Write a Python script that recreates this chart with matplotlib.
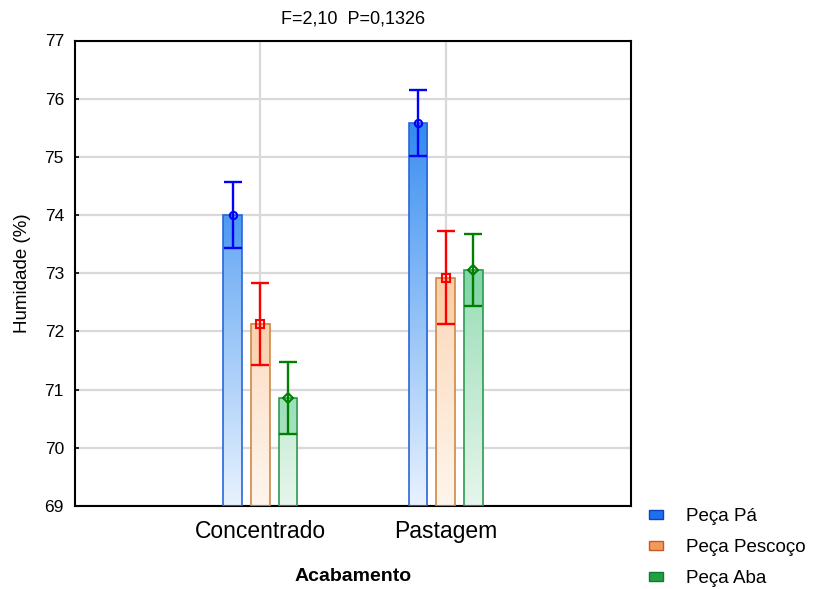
import matplotlib
matplotlib.use("Agg")
import matplotlib.pyplot as plt
import numpy as np
from matplotlib.colors import LinearSegmentedColormap
from matplotlib.patches import Patch

plt.rcParams['font.family'] = ['Liberation Sans', 'DejaVu Sans']

categories = ["Concentrado", "Pastagem"]
series = ["Peça Pá", "Peça Pescoço", "Peça Aba"]
means = {
    "Peça Pá": [74.00, 75.58],
    "Peça Pescoço": [72.13, 72.92],
    "Peça Aba": [70.85, 73.05],
}
errors = {
    "Peça Pá": [0.57, 0.57],
    "Peça Pescoço": [0.70, 0.80],
    "Peça Aba": [0.62, 0.62],
}
title_text = "F=2,10  P=0,1326"
y_ticks = [69, 70, 71, 72, 73, 74, 75, 76, 77]

grad = {
    "Peça Pá": ["#e8f2fe", "#2a86ef"],
    "Peça Pescoço": ["#fff5ec", "#f7bf8c"],
    "Peça Aba": ["#e6f6ec", "#5cc98c"],
}
edge = {"Peça Pá": "#2a66d8", "Peça Pescoço": "#d08844", "Peça Aba": "#2e9a52"}
errc = {"Peça Pá": "#0000ff", "Peça Pescoço": "#ff0000", "Peça Aba": "#008000"}
mark = {"Peça Pá": "o", "Peça Pescoço": "s", "Peça Aba": "D"}
leg_face = {"Peça Pá": "#1f6ff2", "Peça Pescoço": "#f39a5a", "Peça Aba": "#22a046"}
leg_edge = {"Peça Pá": "#1040c0", "Peça Pescoço": "#c85a20", "Peça Aba": "#107a30"}

W, H = 813, 589
fig = plt.figure(figsize=(W / 100, H / 100), dpi=100)
ax = fig.add_axes([75 / W, (H - 506) / H, 556 / W, 465.5 / H])

ymin, ymax = 69, 77
ax.set_xlim(-1, 2)
ax.set_ylim(ymin, ymax)

width = 0.1
offsets = [-0.15, 0.0, 0.15]
x = np.arange(len(categories))

for s, off in zip(series, offsets):
    cmap = LinearSegmentedColormap.from_list(s, grad[s])
    for i, xc in enumerate(x):
        m = means[s][i]
        e = errors[s][i]
        x0, x1 = xc + off - width / 2, xc + off + width / 2
        vals = np.linspace(ymin, m, 200).reshape(-1, 1)
        ax.imshow(vals, cmap=cmap, vmin=ymin, vmax=76.2, origin='lower',
                  extent=[x0, x1, ymin, m], aspect='auto', zorder=2,
                  interpolation='bilinear')
        ax.fill_between([x0, x1], m - e, m, color=grad[s][1], alpha=0.35,
                        linewidth=0, zorder=2.1)
    ax.bar(x + off, [m - ymin for m in means[s]], width=width, bottom=ymin,
           fill=False, edgecolor=edge[s], linewidth=1.2, zorder=3)
    ax.errorbar(x + off, means[s], yerr=errors[s], fmt='none', ecolor=errc[s],
                elinewidth=1.7, capsize=6.5, capthick=1.7, zorder=4)
    ax.plot(x + off, means[s], linestyle='none', marker=mark[s],
            markersize=5.2, markerfacecolor='none',
            markeredgecolor=errc[s], markeredgewidth=1.5, zorder=5)

ax.set_yticks(y_ticks)
ax.set_xticks(x)
ax.set_xticklabels(categories, fontsize=16.5)
ax.tick_params(axis='y', labelsize=12.5, direction='in', length=3, width=1.2, pad=8)
ax.tick_params(axis='x', direction='in', length=3, width=1.2, pad=10)
ax.grid(True, color='#d9d9d9', linewidth=1.6, zorder=0)
ax.set_axisbelow(True)
for sp in ax.spines.values():
    sp.set_linewidth(1.5)
    sp.set_color('black')

ax.set_title(title_text, fontsize=13, pad=12)
ax.set_ylabel("Humidade (%)", fontsize=13.5, labelpad=10)
ax.set_xlabel("Acabamento", fontsize=14, fontweight='bold', labelpad=18,
              family=['Liberation Sans Narrow', 'Liberation Sans'])

handles = [Patch(facecolor=leg_face[s], edgecolor=leg_edge[s], linewidth=1.0)
           for s in series]
fig.legend(handles, series, loc='upper left',
           bbox_to_anchor=(649 / W, 1 - 508 / H), frameon=False,
           fontsize=13.5, handlelength=0.75, handleheight=0.35,
           labelspacing=0.75, handletextpad=1.25, borderaxespad=0,
           borderpad=0)

fig.savefig("out.png", dpi=100)
